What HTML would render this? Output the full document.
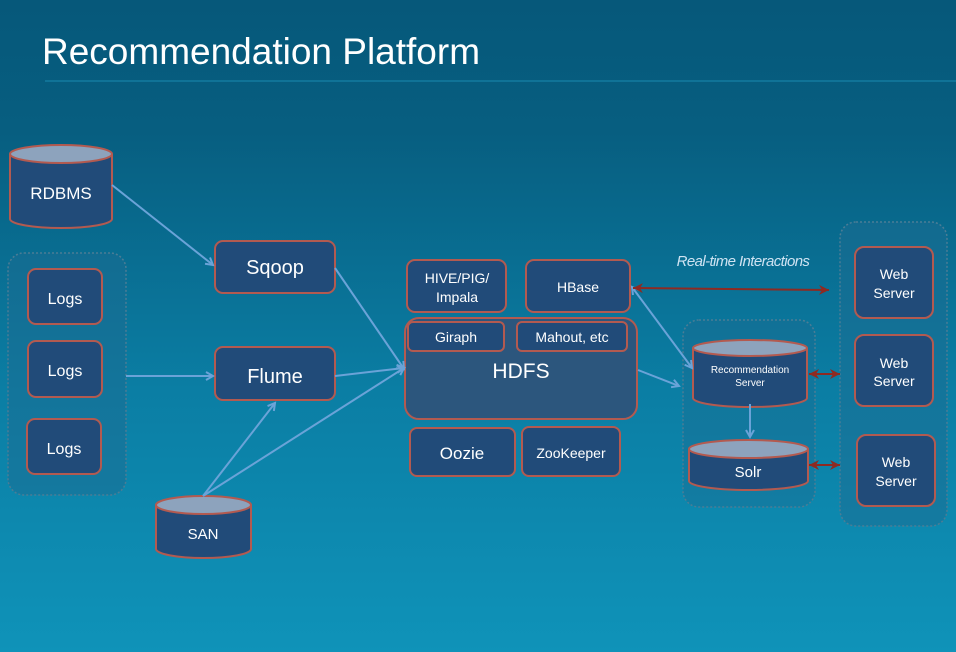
<!DOCTYPE html>
<html><head><meta charset="utf-8"><style>
html,body{margin:0;padding:0;width:956px;height:652px;overflow:hidden}
svg{display:block}
text{font-family:"Liberation Sans",sans-serif;fill:#fff}
</style></head><body>
<svg width="956" height="652" viewBox="0 0 956 652" xmlns="http://www.w3.org/2000/svg">
<defs>
<linearGradient id="bg" x1="0" y1="0" x2="0" y2="1">
<stop offset="0" stop-color="#06587a"/>
<stop offset="0.2" stop-color="#075e80"/>
<stop offset="0.6" stop-color="#0b7ea4"/>
<stop offset="1" stop-color="#0f93b9"/>
</linearGradient>
<marker id="ab" markerWidth="10" markerHeight="10" refX="8" refY="5" orient="auto-start-reverse" markerUnits="userSpaceOnUse">
<path d="M1,1 L8,5 L1,9" fill="none" stroke="#6aa3d8" stroke-width="2"/></marker>
<marker id="ar" markerWidth="12" markerHeight="12" refX="10" refY="6" orient="auto-start-reverse" markerUnits="userSpaceOnUse">
<path d="M0,1 L10,6 L0,11 L3,6 Z" fill="#8e2a22"/></marker>
</defs>
<rect width="956" height="652" fill="url(#bg)"/>
<text x="42" y="64" font-size="37">Recommendation Platform</text>
<line x1="45" y1="81" x2="956" y2="81" stroke="#1a8ab0" stroke-width="1"/>

<g stroke="#b35a50" stroke-width="2" fill="#214b79">
<!-- containers -->
<rect x="8" y="253" width="118" height="242" rx="16" fill="#1b6b92" fill-opacity="0.5" stroke="#4b7d96" stroke-dasharray="2,2" stroke-width="1.5"/>
<rect x="683" y="320" width="132" height="187" rx="16" fill="#1b6b92" fill-opacity="0.4" stroke="#4b7d96" stroke-dasharray="2,2" stroke-width="1.5"/>
<rect x="840" y="222" width="107" height="304" rx="16" fill="#1b6b92" fill-opacity="0.5" stroke="#4b7d96" stroke-dasharray="2,2" stroke-width="1.5"/>
<!-- boxes -->
<rect x="28" y="269" width="74" height="55" rx="8"/>
<rect x="28" y="341" width="74" height="56" rx="8"/>
<rect x="27" y="419" width="74" height="55" rx="8"/>
<rect x="215" y="241" width="120" height="52" rx="8"/>
<rect x="215" y="347" width="120" height="53" rx="8"/>
<rect x="407" y="260" width="99" height="52" rx="8"/>
<rect x="526" y="260" width="104" height="52" rx="8"/>
<rect x="405" y="318" width="232" height="101" rx="14" fill="#2c567d"/>
<rect x="408" y="322" width="96" height="29" rx="5"/>
<rect x="517" y="322" width="110" height="29" rx="5"/>
<rect x="410" y="428" width="105" height="48" rx="7"/>
<rect x="522" y="427" width="98" height="49" rx="7"/>
<rect x="855" y="247" width="78" height="71" rx="9"/>
<rect x="855" y="335" width="78" height="71" rx="9"/>
<rect x="857" y="435" width="78" height="71" rx="9"/>
<!-- cylinders -->
<path d="M10,154 V219 A51,9 0 0 0 112,219 V154"/>
<ellipse cx="61" cy="154" rx="51" ry="9" fill="#8da3bd"/>
<path d="M156,505 V549 A47.5,9 0 0 0 251,549 V505"/>
<ellipse cx="203.5" cy="505" rx="47.5" ry="9" fill="#8da3bd"/>
<path d="M693,348 V398 A57,9 0 0 0 807,398 V348"/>
<ellipse cx="750" cy="348" rx="57" ry="8" fill="#8da3bd"/>
<path d="M689,449 V481 A59.5,9 0 0 0 808,481 V449"/>
<ellipse cx="748.5" cy="449" rx="59.5" ry="9" fill="#8da3bd"/>
</g>

<g stroke="#6aa3d8" stroke-width="2" fill="none">
<line x1="112" y1="185" x2="213" y2="265" marker-end="url(#ab)"/>
<line x1="126" y1="376" x2="213" y2="376" marker-end="url(#ab)"/>
<line x1="335" y1="268" x2="404" y2="369" marker-end="url(#ab)"/>
<line x1="335" y1="376" x2="404" y2="368" marker-end="url(#ab)"/>
<line x1="203" y1="496" x2="275" y2="403" marker-end="url(#ab)"/>
<line x1="203" y1="496" x2="404" y2="368" marker-end="url(#ab)"/>
<line x1="638" y1="370" x2="679" y2="386" marker-end="url(#ab)"/>
<line x1="632" y1="287" x2="692" y2="368" marker-start="url(#ab)" marker-end="url(#ab)"/>
<line x1="750" y1="404" x2="750" y2="437" marker-end="url(#ab)"/>
</g>
<g stroke="#8e2a22" stroke-width="2" fill="none">
<line x1="633" y1="288" x2="829" y2="290" marker-start="url(#ar)" marker-end="url(#ar)"/>
<line x1="809" y1="374" x2="840" y2="374" marker-start="url(#ar)" marker-end="url(#ar)"/>
<line x1="809" y1="465" x2="840" y2="465" marker-start="url(#ar)" marker-end="url(#ar)"/>
</g>

<g text-anchor="middle">
<text x="61" y="199" font-size="17">RDBMS</text>
<text x="65" y="304" font-size="16">Logs</text>
<text x="65" y="376" font-size="16">Logs</text>
<text x="64" y="454" font-size="16">Logs</text>
<text x="275" y="274" font-size="20">Sqoop</text>
<text x="275" y="383" font-size="20">Flume</text>
<text x="203" y="539" font-size="15">SAN</text>
<text x="457" y="283" font-size="14">HIVE/PIG/</text>
<text x="457" y="302" font-size="14">Impala</text>
<text x="578" y="292" font-size="14">HBase</text>
<text x="456" y="342" font-size="14">Giraph</text>
<text x="572" y="342" font-size="14">Mahout, etc</text>
<text x="521" y="378" font-size="21">HDFS</text>
<text x="462" y="459" font-size="17">Oozie</text>
<text x="571" y="458" font-size="14">ZooKeeper</text>
<text x="750" y="373" font-size="10">Recommendation</text>
<text x="750" y="386" font-size="10">Server</text>
<text x="748" y="477" font-size="15">Solr</text>
<text x="894" y="279" font-size="14">Web</text>
<text x="894" y="298" font-size="14">Server</text>
<text x="894" y="368" font-size="14">Web</text>
<text x="894" y="386" font-size="14">Server</text>
<text x="896" y="467" font-size="14">Web</text>
<text x="896" y="486" font-size="14">Server</text>
<text x="743" y="266" font-size="15" font-style="italic" style="fill:#cfe3f2;letter-spacing:-0.6px">Real-time Interactions</text>
</g>
</svg>
</body></html>
